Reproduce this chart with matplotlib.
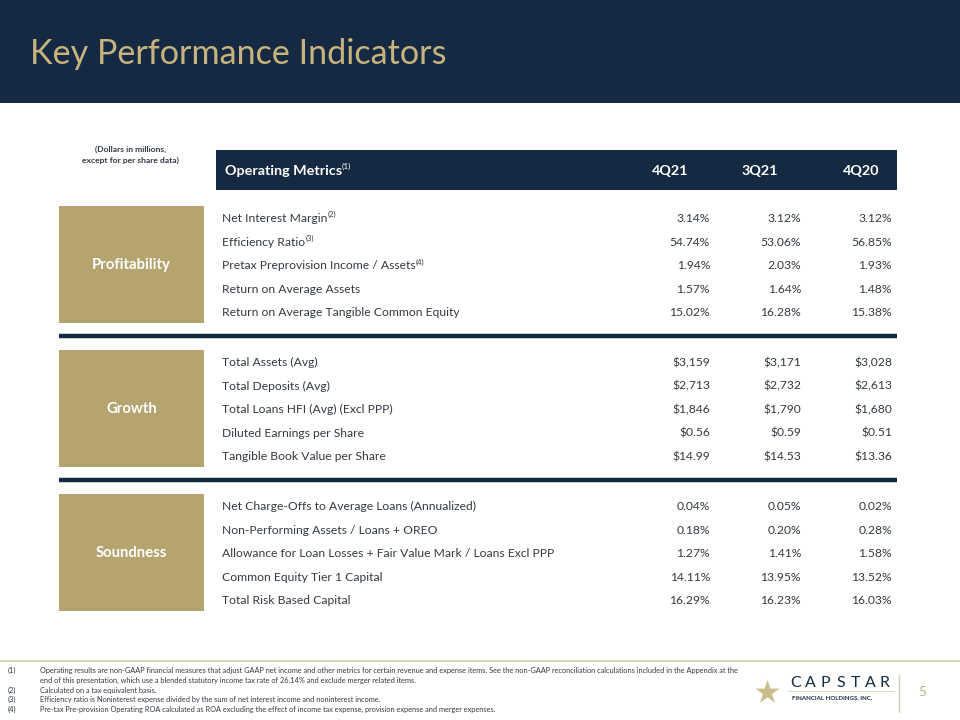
import matplotlib.pyplot as plt
from matplotlib.patches import Rectangle

plt.rcParams['font.family'] = ['Lato', 'DejaVu Sans']

NAVY = '#152a42'
GOLD = '#b5a470'
TITLE_GOLD = '#c8b37e'
TXT = '#333a44'

title = "Key Performance Indicators"
note = "(Dollars in millions,\nexcept for per share data)"
columns = ["4Q21", "3Q21", "4Q20"]
groups = ["Profitability", "Growth", "Soundness"]

metrics = [
    [("Net Interest Margin", "(2)"), ("Efficiency Ratio", "(3)"),
     ("Pretax Preprovision Income / Assets", "(4)"), ("Return on Average Assets", ""),
     ("Return on Average Tangible Common Equity", "")],
    [("Total Assets (Avg)", ""), ("Total Deposits (Avg)", ""),
     ("Total Loans HFI (Avg) (Excl PPP)", ""), ("Diluted Earnings per Share", ""),
     ("Tangible Book Value per Share", "")],
    [("Net Charge-Offs to Average Loans (Annualized)", ""),
     ("Non-Performing Assets / Loans + OREO", ""),
     ("Allowance for Loan Losses + Fair Value Mark / Loans Excl PPP", ""),
     ("Common Equity Tier 1 Capital", ""), ("Total Risk Based Capital", "")],
]

values_4q21 = ["3.14%", "54.74%", "1.94%", "1.57%", "15.02%",
               "$3,159", "$2,713", "$1,846", "$0.56", "$14.99",
               "0.04%", "0.18%", "1.27%", "14.11%", "16.29%"]
values_3q21 = ["3.12%", "53.06%", "2.03%", "1.64%", "16.28%",
               "$3,171", "$2,732", "$1,790", "$0.59", "$14.53",
               "0.05%", "0.20%", "1.41%", "13.95%", "16.23%"]
values_4q20 = ["3.12%", "56.85%", "1.93%", "1.48%", "15.38%",
               "$3,028", "$2,613", "$1,680", "$0.51", "$13.36",
               "0.02%", "0.28%", "1.58%", "13.52%", "16.03%"]

footnotes = [
    ("(1)", "Operating results are non-GAAP financial measures that adjust GAAP net income and other metrics for certain revenue and expense items. See the non-GAAP reconciliation calculations included in the Appendix at the"),
    ("", "end of this presentation, which use a blended statutory income tax rate of 26.14% and exclude merger related items."),
    ("(2)", "Calculated on a tax equivalent basis."),
    ("(3)", "Efficiency ratio is Noninterest expense divided by the sum of net interest income and noninterest income."),
    ("(4)", "Pre-tax Pre-provision Operating ROA calculated as ROA excluding the effect of income tax expense, provision expense and merger expenses."),
]

fig = plt.figure(figsize=(9.6, 7.2), dpi=100)
ax = fig.add_axes([0, 0, 1, 1])
ax.set_xlim(0, 960)
ax.set_ylim(720, 0)
ax.axis('off')

# header band
ax.add_patch(Rectangle((0, 0), 960, 103, color=NAVY, lw=0))
ax.text(30, 54, title, color=TITLE_GOLD, fontsize=24.6, va='center', ha='left')

ax.text(131, 155, note, ha='center', va='center', fontsize=6.1, fontweight='bold',
        color=TXT, linespacing=1.5)

# table header
ax.add_patch(Rectangle((216, 150), 681, 40, color=NAVY, lw=0))
h = ax.text(225, 171, "Operating Metrics", color='white', fontsize=10.4, fontweight='bold',
            va='center', ha='left')
ax.annotate("(1)", xy=(1.0, 0.55), xycoords=h, color='white', fontsize=6,
            va='bottom', ha='left')
col_x = [670, 760, 861]
for cx, c in zip(col_x, columns):
    ax.text(cx, 171, c, color='white', fontsize=10.4, fontweight='bold', ha='center', va='center')

val_x = [710, 801, 892]
box_top = [206, 350, 494]
row_dy = 23.6
for g, (name, rows) in enumerate(zip(groups, metrics)):
    top = box_top[g]
    ax.add_patch(Rectangle((59, top), 145, 117, color=GOLD, lw=0))
    ax.text(131.5, top + 59, name, color='white', fontsize=10.7, fontweight='bold',
            ha='center', va='center')
    for r, (label, sup) in enumerate(rows):
        y = top + 12.5 + r * row_dy
        t = ax.text(222, y, label, color=TXT, fontsize=8.7, ha='left', va='center')
        if sup:
            ax.annotate(sup, xy=(1.0, 0.5), xycoords=t, color=TXT, fontsize=5.4,
                        va='bottom', ha='left')
        i = g * 5 + r
        for vx, vals in zip(val_x, [values_4q21, values_3q21, values_4q20]):
            ax.text(vx, y, vals[i], color=TXT, fontsize=8.7, ha='right', va='center')
    if g < 2:
        ax.plot([59, 897], [top + 130, top + 130], color=NAVY, lw=3.2, solid_capstyle='butt')

# footer
ax.plot([0, 960], [661, 661], color='#d6cdb0', lw=1.2)
fy = 670.5
for num, line in footnotes:
    ax.text(8, fy, num, fontsize=5.3, color=TXT, va='center', ha='left')
    ax.text(40, fy, line, fontsize=5.3, color=TXT, va='center', ha='left')
    fy += 9.8

# logo
ax.scatter([767], [692], marker='*', s=330, color='#c9bb8a', lw=0)
for k, ch in enumerate("CAPSTAR"):
    ax.text(796 + k * 14.8, 683, ch, fontsize=11.5, color=NAVY, ha='center', va='center')
ax.plot([788, 893], [691, 691], color='#d6cdb0', lw=0.6)
ax.text(792, 698, "FINANCIAL HOLDINGS, INC.", fontsize=4.4, color=NAVY, ha='left',
        va='center', fontweight='bold')
ax.plot([899, 899], [675, 712], color='#d6cdb0', lw=1)
ax.text(922, 692, "5", fontsize=9.5, color='#b8ab80', ha='center', va='center')

fig.savefig('out.png', dpi=100)
